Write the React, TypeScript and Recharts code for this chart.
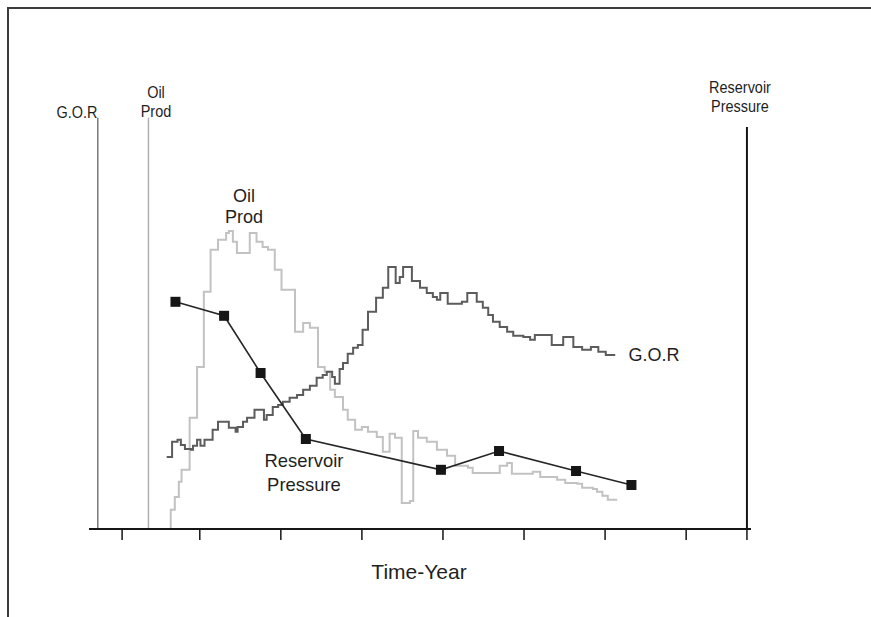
import React from "react";
import { ComposedChart, Line, XAxis, YAxis, ReferenceLine } from "recharts";

// time in months, values in % of axis height (schematic, no units on the axes)
const yearTicks = [0.5, 12, 24, 36, 48, 60, 72, 84, 93];

const pressure: [number, number][] = [
  [8.4, 56.8], [15.6, 53.3], [21.0, 39], [27.7, 22.5],
  [47.7, 14.8], [56.3, 19.5], [67.7, 14.5], [75.9, 11],
];

const oilProd: [number, number][] = [
  [7.7, 0], [7.7, 4.8], [8.3, 8], [8.9, 11.8], [9.3, 14.8], [10.5, 27.8],
  [11.6, 40.5], [12.6, 59.3], [13.6, 69.8], [14.7, 72.3], [15.9, 74], [16.3, 74.5],
  [16.9, 71.8], [17.5, 69], [19.4, 74], [20.4, 71.8], [21.3, 70.5], [22.1, 69.8],
  [23.1, 64.8], [24.1, 59.8], [26.1, 49.3], [27.3, 51.5], [28.3, 50.3], [29.5, 40.5],
  [30.5, 39.3], [31.3, 34.8], [32.0, 33], [33.2, 29.8], [33.9, 27.3], [35.0, 24.8],
  [36.0, 25.5], [36.9, 24.3], [38.2, 23], [39.1, 19.3], [40.1, 23.8], [40.9, 22.8],
  [41.9, 6.5], [43.1, 7], [43.6, 24.5], [44.3, 22.8], [45.6, 21.8], [47.1, 19.8],
  [48.6, 18.3], [49.8, 15.8], [51.7, 15.3], [52.4, 14], [56.4, 15.8], [57.5, 16.5],
  [58.2, 13.8], [61.3, 14.3], [62.4, 13], [64.9, 12.3], [66.1, 11.5], [67.9, 11.3],
  [68.6, 10.3], [70.2, 10], [70.8, 9.3], [71.6, 8.3], [72.4, 7.3], [73.8, 7.3],
];

const gor: [number, number][] = [
  [7.1, 18], [7.9, 21.8], [8.7, 22.3], [9.2, 21], [9.8, 20], [10.7, 19.8],
  [11.0, 20.8], [11.6, 22.3], [12.1, 20.8], [12.7, 22.3], [13.9, 24.8], [14.7, 26.8],
  [16.3, 25.3], [17.3, 24.3], [17.6, 25.5], [18.4, 26.8], [19.0, 27.8], [20.1, 29.8],
  [21.5, 27.3], [21.9, 28.5], [22.8, 30.5], [23.6, 31], [24.3, 31.8], [25.3, 32.8],
  [26.4, 33.5], [27.3, 34.8], [28.3, 35.8], [29.3, 37.8], [30.2, 38.5], [30.8, 39.3],
  [31.6, 38], [32.0, 36.3], [32.7, 40], [33.2, 41.5], [33.9, 43.8], [34.7, 45.3],
  [35.4, 46], [36.1, 49.8], [36.9, 54.3], [38.1, 57.8], [39.1, 60.3], [39.9, 65.5],
  [41.0, 61.5], [41.6, 63], [42.1, 65.5], [43.4, 62], [44.6, 60.3], [45.6, 59],
  [46.5, 58], [47.1, 57.3], [47.6, 59], [48.7, 56.3], [50.8, 56.8], [51.6, 59],
  [53.0, 56.8], [53.9, 55.3], [54.7, 53.5], [55.4, 51.8], [56.4, 50.5], [57.5, 49.3],
  [58.4, 48.3], [59.9, 48], [60.9, 47.3], [61.6, 48.5], [64.1, 46], [65.8, 48],
  [67.3, 45.5], [68.6, 44.8], [69.9, 45.5], [71.0, 44.3], [72.1, 43.5], [73.5, 43.5],
];

// where the three vertical scales sit on the time axis
const gorAxisAt = -3.1;
const oilAxisAt = 4.4;
const pressureAxisAt = 93;

const toRows = (pts: [number, number][]) => pts.map(([m, v]) => ({ m, v }));

const FONT = "'Liberation Sans', Arial, sans-serif";

// labels look a bit condensed in the original, so squeeze them slightly
function Note({ x, y, lines, size, lh, squeeze = 1 }: { x: number; y: number; lines: string[]; size: number; lh: number; squeeze?: number }) {
  return (
    <div
      style={{
        position: "absolute", left: x, top: y, transform: `translate(-50%, -50%) scaleX(${squeeze})`,
        fontFamily: FONT, fontSize: size, lineHeight: `${lh}px`, color: "#1f1f1f",
        textAlign: "center", whiteSpace: "nowrap",
      }}
    >
      {lines.map((l) => <div key={l}>{l}</div>)}
    </div>
  );
}

const SquareDot = (p: any) => (
  <rect key={p.index} x={p.cx - 5} y={p.cy - 5} width={10} height={10} fill="#161616" />
);

// no tick labels, only the marks
const NoLabel = () => <g />;

export default function App() {
  return (
    <div style={{ position: "absolute", left: 0, top: 0, width: 871, height: 617, background: "#fff", overflow: "hidden" }}>
      {/* frame */}
      <div style={{ position: "absolute", left: 7, top: 7, right: -4, bottom: -4, borderTop: "2px solid #3c3c3c", borderLeft: "2px solid #3c3c3c" }} />

      <ComposedChart width={871} height={617} margin={{ top: 117, right: 120, bottom: 28, left: 89 }} style={{ position: "absolute", left: 0, top: 0 }}>
        <XAxis
          type="number"
          dataKey="m"
          domain={[-4.4, 93.6]}
          ticks={yearTicks}
          tick={NoLabel}
          tickSize={11}
          height={60}
          allowDataOverflow
          axisLine={{ stroke: "#161616", strokeWidth: 2 }}
          tickLine={{ stroke: "#161616", strokeWidth: 1.5 }}
        />
        <YAxis yAxisId="gor" hide domain={[0, 103]} />
        <YAxis yAxisId="oil" hide domain={[0, 103]} />
        <YAxis yAxisId="pres" hide domain={[0, 103]} />

        <ReferenceLine yAxisId="gor" ifOverflow="visible" stroke="#7a7a7a" strokeWidth={1.5}
          segment={[{ x: gorAxisAt, y: 0 }, { x: gorAxisAt, y: 102.8 }]} />
        <ReferenceLine yAxisId="oil" ifOverflow="visible" stroke="#b0b0b0" strokeWidth={1.5}
          segment={[{ x: oilAxisAt, y: 0 }, { x: oilAxisAt, y: 102.8 }]} />
        <ReferenceLine yAxisId="pres" ifOverflow="visible" stroke="#161616" strokeWidth={2}
          segment={[{ x: pressureAxisAt, y: 0 }, { x: pressureAxisAt, y: 100.5 }]} />

        <Line yAxisId="oil" data={toRows(oilProd)} dataKey="v" type="stepAfter" stroke="#c2c2c2" strokeWidth={2} dot={false} isAnimationActive={false} />
        <Line yAxisId="gor" data={toRows(gor)} dataKey="v" type="stepAfter" stroke="#5c5c5c" strokeWidth={2} dot={false} isAnimationActive={false} />
        <Line yAxisId="pres" data={toRows(pressure)} dataKey="v" type="linear" stroke="#262626" strokeWidth={1.6} dot={SquareDot} isAnimationActive={false} />
      </ComposedChart>

      <Note x={77} y={112} lines={["G.O.R"]} size={17} lh={19} squeeze={0.85} />
      <Note x={156} y={102} lines={["Oil", "Prod"]} size={17} lh={19} squeeze={0.85} />
      <Note x={740} y={97} lines={["Reservoir", "Pressure"]} size={17} lh={19} squeeze={0.85} />
      <Note x={244} y={206} lines={["Oil", "Prod"]} size={19} lh={21} squeeze={0.95} />
      <Note x={304} y={473} lines={["Reservoir", "Pressure"]} size={19} lh={24} squeeze={0.97} />
      <Note x={654} y={355} lines={["G.O.R"]} size={18} lh={21} />
      <Note x={419} y={572} lines={["Time-Year"]} size={21} lh={24} />
    </div>
  );
}
